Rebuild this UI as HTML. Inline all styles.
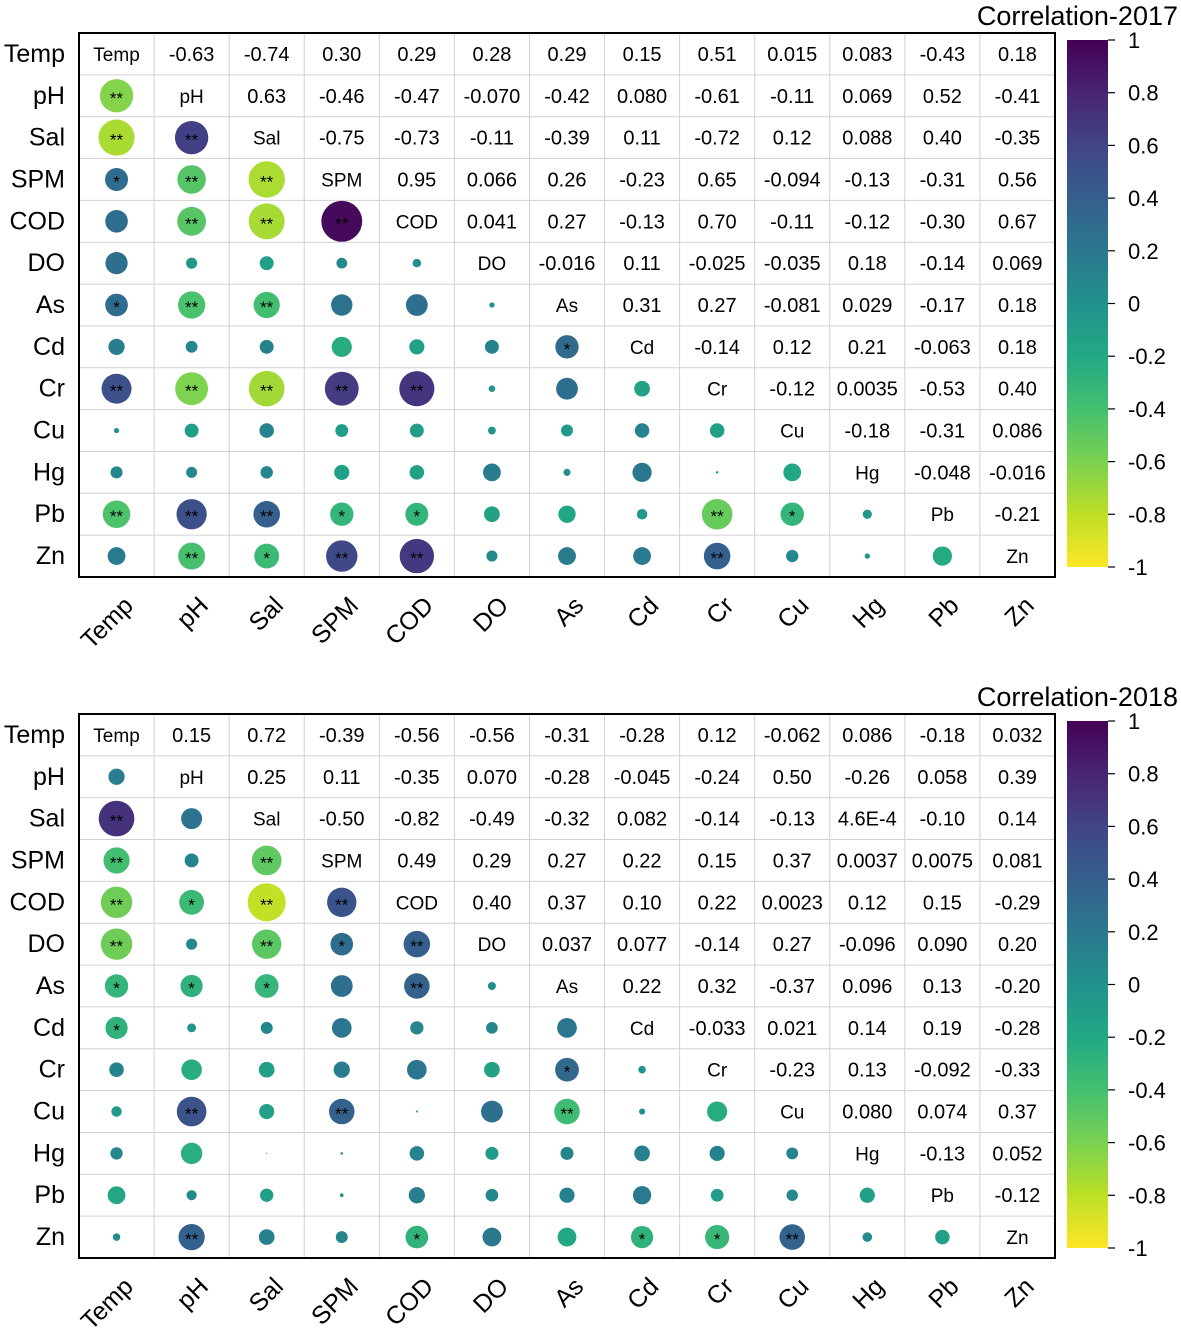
<!DOCTYPE html>
<html><head><meta charset="utf-8"><style>
html,body{margin:0;padding:0;background:#fff;}
svg{display:block;font-family:"Liberation Sans",Arial,sans-serif;}
</style></head><body>
<svg id="chart" width="1181" height="1337" viewBox="0 0 1181 1337" xmlns="http://www.w3.org/2000/svg">
<defs>
<linearGradient id="vir" x1="0" y1="0" x2="0" y2="1">
<stop offset="0" stop-color="#440154"/><stop offset="0.1" stop-color="#482475"/><stop offset="0.2" stop-color="#414487"/><stop offset="0.3" stop-color="#355f8d"/><stop offset="0.4" stop-color="#2a788e"/><stop offset="0.5" stop-color="#21918c"/><stop offset="0.6" stop-color="#22a884"/><stop offset="0.7" stop-color="#44bf70"/><stop offset="0.8" stop-color="#7ad151"/><stop offset="0.9" stop-color="#bddf26"/><stop offset="1" stop-color="#fde725"/>
</linearGradient>
</defs>
</svg>
<script>
const names = ["Temp","pH","Sal","SPM","COD","DO","As","Cd","Cr","Cu","Hg","Pb","Zn"];
const up2017 = [
["-0.63","-0.74","0.30","0.29","0.28","0.29","0.15","0.51","0.015","0.083","-0.43","0.18"],
["0.63","-0.46","-0.47","-0.070","-0.42","0.080","-0.61","-0.11","0.069","0.52","-0.41"],
["-0.75","-0.73","-0.11","-0.39","0.11","-0.72","0.12","0.088","0.40","-0.35"],
["0.95","0.066","0.26","-0.23","0.65","-0.094","-0.13","-0.31","0.56"],
["0.041","0.27","-0.13","0.70","-0.11","-0.12","-0.30","0.67"],
["-0.016","0.11","-0.025","-0.035","0.18","-0.14","0.069"],
["0.31","0.27","-0.081","0.029","-0.17","0.18"],
["-0.14","0.12","0.21","-0.063","0.18"],
["-0.12","0.0035","-0.53","0.40"],
["-0.18","-0.31","0.086"],
["-0.048","-0.016"],
["-0.21"]
];
const up2018 = [
["0.15","0.72","-0.39","-0.56","-0.56","-0.31","-0.28","0.12","-0.062","0.086","-0.18","0.032"],
["0.25","0.11","-0.35","0.070","-0.28","-0.045","-0.24","0.50","-0.26","0.058","0.39"],
["-0.50","-0.82","-0.49","-0.32","0.082","-0.14","-0.13","4.6E-4","-0.10","0.14"],
["0.49","0.29","0.27","0.22","0.15","0.37","0.0037","0.0075","0.081"],
["0.40","0.37","0.10","0.22","0.0023","0.12","0.15","-0.29"],
["0.037","0.077","-0.14","0.27","-0.096","0.090","0.20"],
["0.22","0.32","-0.37","0.096","0.13","-0.20"],
["-0.033","0.021","0.14","0.19","-0.28"],
["-0.23","0.13","-0.092","-0.33"],
["0.080","0.074","0.37"],
["-0.13","0.052"],
["-0.12"]
];
const stars2017 = [[1,0,"**"],[2,0,"**"],[2,1,"**"],[3,0,"*"],[3,1,"**"],[3,2,"**"],[4,1,"**"],[4,2,"**"],[4,3,"**"],[6,0,"*"],[6,1,"**"],[6,2,"**"],[7,6,"*"],[8,0,"**"],[8,1,"**"],[8,2,"**"],[8,3,"**"],[8,4,"**"],[11,0,"**"],[11,1,"**"],[11,2,"**"],[11,3,"*"],[11,4,"*"],[11,8,"**"],[11,9,"*"],[12,1,"**"],[12,2,"*"],[12,3,"**"],[12,4,"**"],[12,8,"**"]];
const stars2018 = [[2,0,"**"],[3,0,"**"],[3,2,"**"],[4,0,"**"],[4,1,"*"],[4,2,"**"],[4,3,"**"],[5,0,"**"],[5,2,"**"],[5,3,"*"],[5,4,"**"],[6,0,"*"],[6,1,"*"],[6,2,"*"],[6,4,"**"],[7,0,"*"],[8,6,"*"],[9,1,"**"],[9,3,"**"],[9,6,"**"],[12,1,"**"],[12,4,"*"],[12,7,"*"],[12,8,"*"],[12,9,"**"]];
const cbTicks = ["1","0.8","0.6","0.4","0.2","0","-0.2","-0.4","-0.6","-0.8","-1"];

const NS="http://www.w3.org/2000/svg";
const svg=document.getElementById("chart");
const vstops=["#440154","#482475","#414487","#355f8d","#2a788e","#21918c","#22a884","#44bf70","#7ad151","#bddf26","#fde725"];
function hex(h){return [1,3,5].map(i=>parseInt(h.substr(i,2),16));}
function color(r){const t=Math.max(0,Math.min(1,(1-r)/2))*10;const i=Math.min(9,Math.floor(t));const f=t-i;const a=hex(vstops[i]),b=hex(vstops[i+1]);return "rgb("+a.map((v,k)=>Math.round(v+(b[k]-v)*f)).join(",")+")";}
function mk(tag,attrs,parent){const e=document.createElementNS(NS,tag);for(const k in attrs)e.setAttribute(k,attrs[k]);(parent||svg).appendChild(e);return e;}

function panel(oy,up,stars,title,yr){
  const g=mk("g",{});
  
  
  const x0=79,x1=1055,y0=oy,y1=oy+544,n=13,cw=(x1-x0)/n,rh=(y1-y0)/n;
  const cx=j=>x0+cw*(j+0.5), cy=i=>y0+rh*(i+0.5);
  const val=(i,j)=>i<j?up[i][j-i-1]:up[j][i-j-1];
  for(let k=1;k<n;k++){
    mk("line",{x1:x0+cw*k,x2:x0+cw*k,y1:y0,y2:y1,stroke:"#d0d0d0","stroke-width":1},g);
    mk("line",{x1:x0,x2:x1,y1:y0+rh*k,y2:y0+rh*k,stroke:"#d0d0d0","stroke-width":1},g);
  }
  const sm={};stars.forEach(s=>sm[s[0]+"-"+s[1]]=s[2]);
  for(let i=0;i<n;i++){
    for(let j=0;j<n;j++){
      if(i===j){
        const t=mk("text",{x:cx(j),y:cy(i)+7,"text-anchor":"middle","font-size":19,fill:"#000"},g);
        t.textContent=names[i];
        
        
      } else if(i<j){
        const t=mk("text",{x:cx(j),y:cy(i)+7,"text-anchor":"middle","font-size":20,fill:"#000"},g);
        t.textContent=val(i,j);
        
        
      } else {
        const r=parseFloat(val(i,j));
        const c=mk("circle",{cx:cx(j),cy:cy(i),r:Math.max(0.6,21*Math.sqrt(Math.abs(r))),fill:color(r)},g);
        
        
        const s=sm[i+"-"+j];
        if(s){
          const t=mk("text",{x:cx(j),y:cy(i)+8,"text-anchor":"middle","font-size":17,fill:"#000"},g);
          t.textContent=s;
          
          
        }
      }
    }
  }
  mk("rect",{x:x0,y:y0,width:x1-x0,height:y1-y0,fill:"none",stroke:"#000","stroke-width":2},g);
  for(let i=0;i<n;i++){
    const t=mk("text",{x:65,y:cy(i)+8,"text-anchor":"end","font-size":25,fill:"#000"},g);
    t.textContent=names[i];
    
    
    const xl=cx(i)+18, yl=y1+30;
    const u=mk("text",{x:xl,y:yl,"text-anchor":"end","font-size":25,fill:"#000",transform:"rotate(-45 "+xl+" "+yl+")"},g);
    u.textContent=names[i];
    
    
  }
  const cbx=1067,cbw=41,cby0=oy+7,cby1=oy+534;
  const cb=mk("rect",{x:cbx,y:cby0,width:cbw,height:cby1-cby0,fill:"url(#vir)"},g);
  
  
  cbTicks.forEach((lab,k)=>{
    const y=cby0+(cby1-cby0)*k/(cbTicks.length-1);
    mk("line",{x1:cbx+cbw,x2:cbx+cbw+7,y1:y,y2:y,stroke:"#000","stroke-width":1.2},g);
    const t=mk("text",{x:1128,y:y+8,"font-size":22,fill:"#000"},g);
    t.textContent=lab;
    
    
  });
  const tt=mk("text",{x:1178,y:oy-8,"text-anchor":"end","font-size":27,fill:"#000"},g);
  tt.textContent=title;
  
  
}
panel(33,up2017,stars2017,"Correlation-2017","2017");
panel(714,up2018,stars2018,"Correlation-2018","2018");
</script>
</body></html>
